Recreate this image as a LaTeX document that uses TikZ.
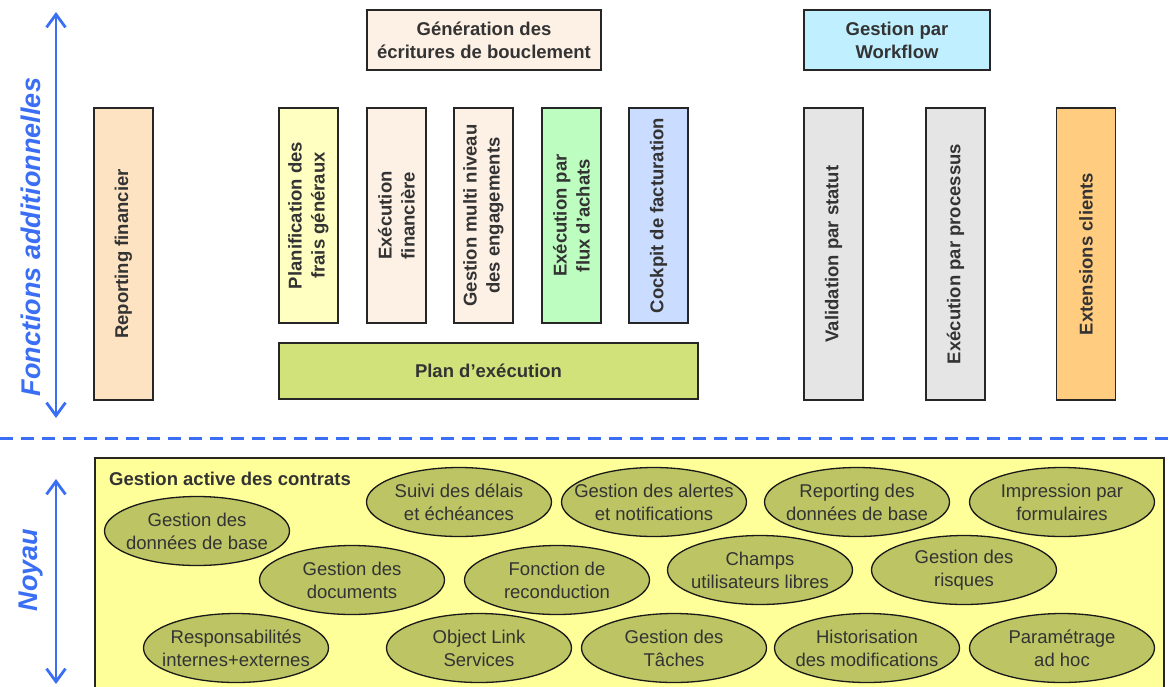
\documentclass[tikz,border=0pt]{standalone}
\usepackage{fontspec}
\setmainfont{Liberation Sans}
\usetikzlibrary{shapes.geometric,arrows.meta,positioning}
\definecolor{txtgray}{HTML}{333333}
\definecolor{axisblue}{HTML}{3A6EF5}
\definecolor{peach}{HTML}{FDF0E4}
\definecolor{repfill}{HTML}{FDE3C1}
\definecolor{planfill}{HTML}{FFFFC2}
\definecolor{fluxfill}{HTML}{BEFDC0}
\definecolor{cockfill}{HTML}{CADCFF}
\definecolor{execfill}{HTML}{D2E27A}
\definecolor{wffill}{HTML}{C0F0FF}
\definecolor{grayfill}{HTML}{E5E5E5}
\definecolor{extfill}{HTML}{FFCC80}
\definecolor{corefill}{HTML}{FFFF99}
\definecolor{ovalfill}{HTML}{BCC464}
\tikzset{
  colbox/.style={draw=black!85, line width=1.4pt, text=txtgray, align=center, inner sep=0pt,
    font=\bfseries\fontsize{18.5}{23}\selectfont},
  vbox/.style={colbox, rotate=90, minimum height=59pt},
  oval/.style={ellipse, draw=black!90, line width=1.3pt, fill=ovalfill, text=txtgray, align=center,
    font=\fontsize{18.5}{23}\selectfont, minimum width=185pt, minimum height=69pt, inner xsep=-30pt, inner ysep=-10pt},
  axis/.style={axisblue, line width=2.8pt, {Straight Barb[length=13pt,width=19pt]}-{Straight Barb[length=13pt,width=19pt]}},
  axislabel/.style={rotate=90, text=axisblue, inner sep=0pt, font=\bfseries\itshape\fontsize{27}{30}\selectfont}
}
\begin{document}
\begin{tikzpicture}[x=1pt,y=-1pt]
  \clip (0,0) rectangle (1172,686);
  \fill[white] (0,0) rectangle (1172,686);
  % fonctions additionnelles
  \node[colbox, fill=peach, minimum width=234pt, minimum height=60pt] (gen) at (484,40) {Génération des\\écritures de bouclement};
  \node[colbox, fill=wffill, minimum width=186pt, minimum height=60pt] (wf) at (897,40) {Gestion par\\Workflow};
  \node[vbox, fill=repfill, minimum width=292pt] (repfin) at (123.5,254) {Reporting financier};
  \node[vbox, fill=planfill, minimum width=215pt] (frais) at (308.5,215.5) {Planification des\\frais généraux};
  \node[vbox, fill=peach, minimum width=215pt] (exfin) at (396.5,215.5) {Exécution\\financière};
  \node[vbox, fill=peach, minimum width=215pt] (multi) at (483.5,215.5) {Gestion multi niveau\\des engagements};
  \node[vbox, fill=fluxfill, minimum width=215pt] (flux) at (571.5,215.5) {Exécution par\\flux d’achats};
  \node[vbox, fill=cockfill, minimum width=215pt] (cockpit) at (658.5,215.5) {Cockpit de facturation};
  \node[colbox, fill=execfill, minimum width=419pt, minimum height=56pt] (planexec) at (488.5,371) {Plan d’exécution};
  \node[vbox, fill=grayfill, minimum width=292pt] (valid) at (833.5,254) {Validation par statut};
  \node[vbox, fill=grayfill, minimum width=292pt] (proc) at (955.5,254) {Exécution par processus};
  \node[vbox, fill=extfill, minimum width=292pt] (ext) at (1086,254) {Extensions clients};
  \coordinate (fatop) at (56,12);
  \coordinate (fabot) at (56,418);
  \draw[axis] (fatop) -- (fabot);
  \node[axislabel] (fonctions) at (31,237) {Fonctions additionnelles};
  \draw[axisblue, line width=3pt, dash pattern=on 13pt off 8pt] (0,438) -- (1172,438);
  % noyau
  \node[draw=black!85, line width=1.4pt, fill=corefill, minimum width=1069pt, minimum height=242pt] (core) at (629.5,579) {};
  \node[anchor=west, text=txtgray, inner sep=0pt, font=\bfseries\fontsize{18.5}{22}\selectfont] (coretitle) at (109,479) {Gestion active des contrats};
  \node[oval] (donnees) at (197,531) {Gestion des\\données de base};
  \node[oval] (delais) at (459,502) {Suivi des délais\\et échéances};
  \node[oval] (alertes) at (654,502) {Gestion des alertes\\et notifications};
  \node[oval] (repbase) at (857,502) {Reporting des\\données de base};
  \node[oval] (impr) at (1062,502) {Impression par\\formulaires};
  \node[oval] (docs) at (352,580) {Gestion des\\documents};
  \node[oval] (recond) at (557,580) {Fonction de\\reconduction};
  \node[oval] (champs) at (760,570) {Champs\\utilisateurs libres};
  \node[oval] (risques) at (964,570) {Gestion des\\risques};
  \node[oval] (resp) at (236,648) {Responsabilités\\internes+externes};
  \node[oval] (olink) at (479,648) {Object Link\\Services};
  \node[oval] (taches) at (674,648) {Gestion des\\Tâches};
  \node[oval] (histo) at (867,648) {Historisation\\des modifications};
  \node[oval] (param) at (1062,648) {Paramétrage\\ad hoc};
  \coordinate (notop) at (56,479);
  \coordinate (nobot) at (56,684);
  \draw[axis] (notop) -- (nobot);
  \node[axislabel] (noyau) at (31,570) {Noyau};
\end{tikzpicture}
\end{document}
